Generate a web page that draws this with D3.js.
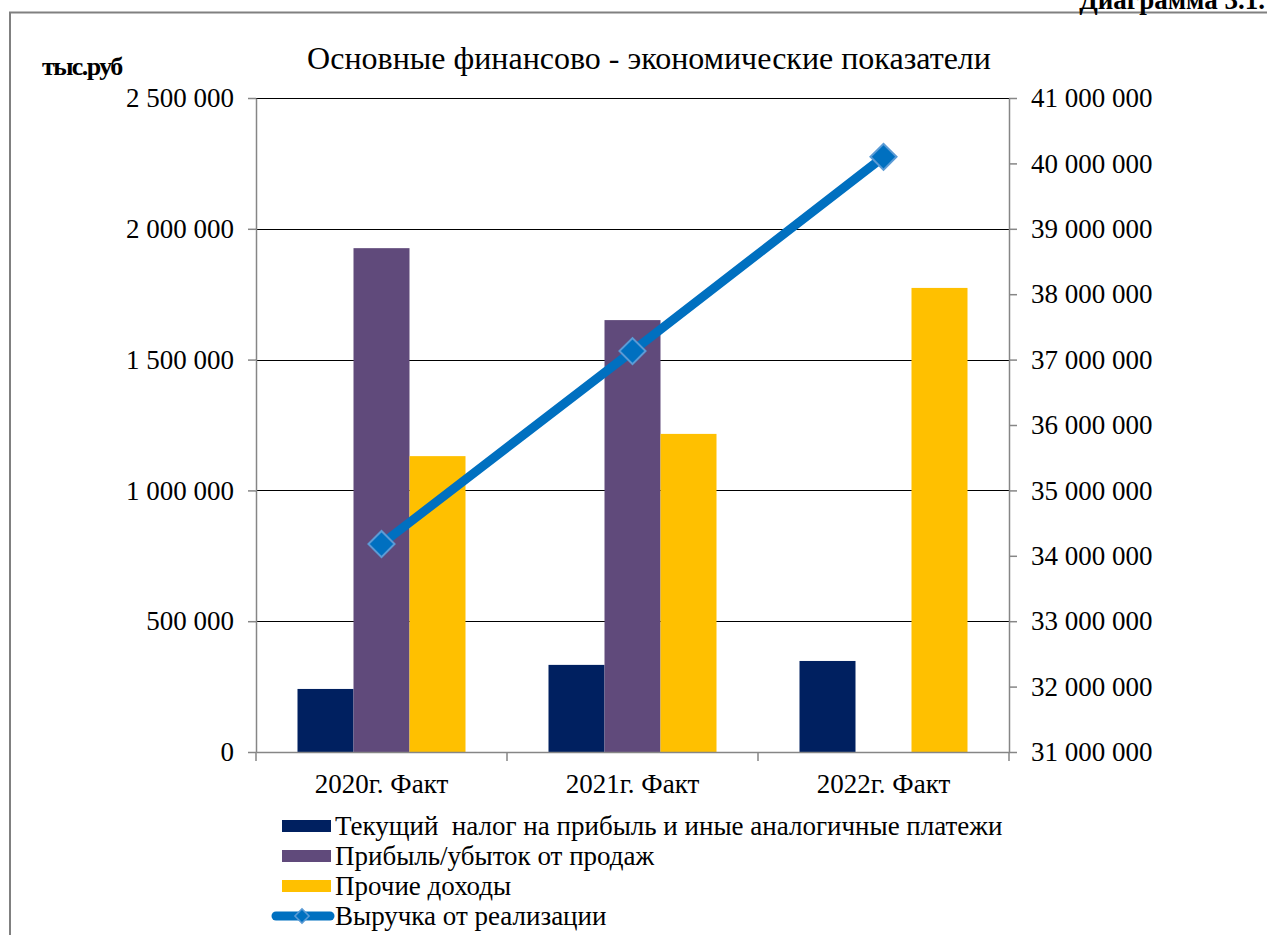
<!DOCTYPE html>
<html>
<head>
<meta charset="utf-8">
<script src="https://cdn.jsdelivr.net/npm/d3@7"></script>
<style>
  html, body { margin: 0; padding: 0; background: #fff; overflow: hidden; }
  svg text { font-family: 'Liberation Serif', Tinos, 'Times New Roman', 'DejaVu Serif', serif !important; fill: #000; white-space: pre; }
</style>
</head>
<body>
<svg id="chart" width="1267" height="935"></svg>
<script>
const categories = ['2020г. Факт', '2021г. Факт', '2022г. Факт'];
const seriesNames = [
  'Текущий  налог на прибыль и иные аналогичные платежи',
  'Прибыль/убыток от продаж',
  'Прочие доходы'
];
const taxValues = [241000, 333000, 348000];
const profitValues = [1926000, 1651000, 0];
const otherIncomeValues = [1131000, 1216000, 1774000];
const revenueName = 'Выручка от реализации';
const revenueValues = [34180000, 37130000, 40100000];
const leftTicks = [0, 500000, 1000000, 1500000, 2000000, 2500000];
const rightTicks = d3.range(31000000, 41000001, 1000000);

const COLORS = ['#002060', '#604A7B', '#FFC000'];
const LINE_COLOR = '#0070C0';
const PLOT = { left: 256, right: 1009, top: 98, bottom: 752 };
const FONT = "'Liberation Serif', Tinos, 'Times New Roman', 'DejaVu Serif', serif";
const TICK_SIZE = '27px';

const svg = d3.select('#chart').attr('font-family', FONT);
const fmt = (v) => d3.format(',')(v).replace(/,/g, ' ');

// frame
svg.append('path')
  .attr('d', `M10,940 L10,12.5 L1270,12.5`)
  .attr('fill', 'none').attr('stroke', '#808080').attr('stroke-width', 2);

svg.append('text').attr('x', 1265).attr('y', 9).attr('text-anchor', 'end')
  .style('font-size', '27px').style('font-weight', 'bold').text('Диаграмма 3.1.');

svg.append('text').attr('x', 649).attr('y', 69).attr('text-anchor', 'middle')
  .style('font-size', '32px').text('Основные финансово - экономические показатели');

svg.append('text').attr('x', 42).attr('y', 75)
  .style('font-size', '26px').style('font-weight', 'bold').style('letter-spacing', '-1.6px')
  .text('тыс.руб');

const x = d3.scaleBand().domain(categories).range([PLOT.left, PLOT.right]);
const yL = d3.scaleLinear().domain([0, 2500000]).range([PLOT.bottom, PLOT.top]);
const yR = d3.scaleLinear().domain([31000000, 41000000]).range([PLOT.bottom, PLOT.top]);
const groupPad = 41.5;
const xs = d3.scaleBand().domain(d3.range(3))
  .range([0, x.bandwidth() - 2 * groupPad]);

// gridlines
svg.append('g').selectAll('line').data(leftTicks.slice(1)).join('line')
  .attr('x1', PLOT.left).attr('x2', PLOT.right)
  .attr('y1', (d) => Math.round(yL(d)) + 0.5).attr('y2', (d) => Math.round(yL(d)) + 0.5)
  .attr('stroke', '#000').attr('stroke-width', 1);

// bars
const series = [taxValues, profitValues, otherIncomeValues];
series.forEach((vals, si) => {
  svg.append('g').selectAll('rect').data(vals).join('rect')
    .attr('x', (d, i) => x(categories[i]) + groupPad + xs(si))
    .attr('y', (d) => yL(d))
    .attr('width', xs.bandwidth())
    .attr('height', (d) => yL(0) - yL(d))
    .attr('fill', COLORS[si]);
});

// axes
const axisStyle = (g) => {
  g.attr('font-family', FONT);
  g.select('.domain').attr('stroke', '#868686').attr('stroke-width', 1.5);
  g.selectAll('.tick line').attr('stroke', '#868686').attr('stroke-width', 1.5);
  g.selectAll('.tick text').style('font-size', TICK_SIZE).attr('fill', '#000');
};

svg.append('g').attr('transform', `translate(${PLOT.left},0)`)
  .call(d3.axisLeft(yL).tickValues(leftTicks).tickFormat(fmt).tickSize(8).tickSizeOuter(0).tickPadding(14))
  .call(axisStyle);

svg.append('g').attr('transform', `translate(${PLOT.right},0)`)
  .call(d3.axisRight(yR).tickValues(rightTicks).tickFormat(fmt).tickSize(8).tickSizeOuter(0).tickPadding(14))
  .call(axisStyle);

const xAxis = svg.append('g').attr('transform', `translate(0,${PLOT.bottom})`)
  .call(d3.axisBottom(x).tickSize(0).tickSizeOuter(0).tickPadding(22))
  .call(axisStyle);
xAxis.selectAll('.tick line').remove();
xAxis.append('g').selectAll('line')
  .data(categories.map((c) => x(c)).concat([PLOT.right])).join('line')
  .attr('x1', (d) => d).attr('x2', (d) => d).attr('y1', 0).attr('y2', 9)
  .attr('stroke', '#868686').attr('stroke-width', 1.5);

// revenue line
const linePts = revenueValues.map((v, i) => [x(categories[i]) + x.bandwidth() / 2, yR(v)]);
svg.append('path').datum(linePts)
  .attr('d', d3.line())
  .attr('fill', 'none').attr('stroke', LINE_COLOR).attr('stroke-width', 9)
  .attr('stroke-linecap', 'round');

svg.append('g').selectAll('path').data(linePts).join('path')
  .attr('transform', (d) => `translate(${d[0]},${d[1]}) rotate(45)`)
  .attr('d', d3.symbol().type(d3.symbolSquare).size(340))
  .attr('fill', LINE_COLOR).attr('stroke', '#5B9BD5').attr('stroke-width', 2);

// legend
const legend = svg.append('g');
const rowY = [826, 856, 886, 916];
seriesNames.forEach((name, i) => {
  legend.append('rect').attr('x', 282).attr('y', rowY[i] - 6).attr('width', 49).attr('height', 12)
    .attr('fill', COLORS[i]);
  legend.append('text').attr('x', 335).attr('y', rowY[i]).attr('dy', '0.33em')
    .style('font-size', TICK_SIZE).text(name);
});
legend.append('line').attr('x1', 276).attr('x2', 330).attr('y1', rowY[3]).attr('y2', rowY[3])
  .attr('stroke', LINE_COLOR).attr('stroke-width', 9).attr('stroke-linecap', 'round');
legend.append('path').attr('transform', `translate(302,${rowY[3]}) rotate(45)`)
  .attr('d', d3.symbol().type(d3.symbolSquare).size(100))
  .attr('fill', LINE_COLOR).attr('stroke', '#5B9BD5').attr('stroke-width', 1.5);
legend.append('text').attr('x', 335).attr('y', rowY[3]).attr('dy', '0.33em')
  .style('font-size', TICK_SIZE).text(revenueName);
</script>
</body>
</html>
